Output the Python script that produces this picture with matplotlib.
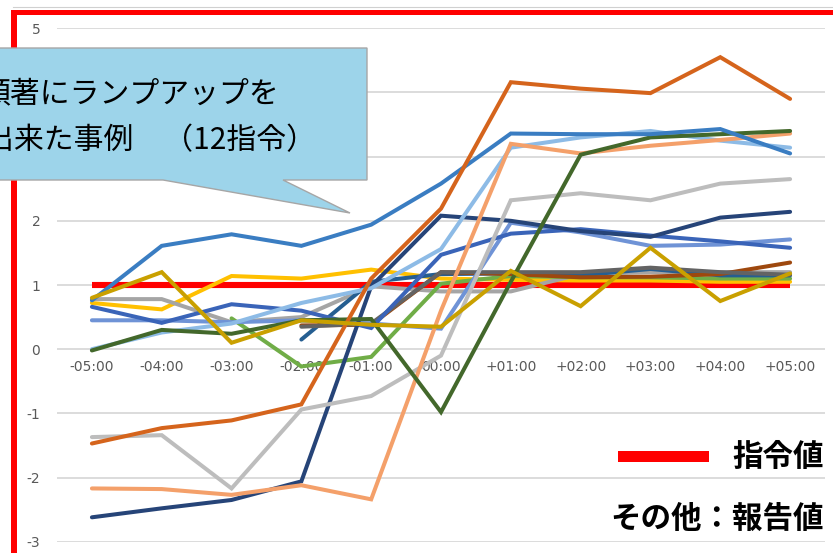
import numpy as np
import matplotlib
matplotlib.use("Agg")
import matplotlib.pyplot as plt
from matplotlib.patches import Rectangle, Polygon

nan = np.nan

# ---------------- data ----------------
categories = ['-05:00', '-04:00', '-03:00', '-02:00', '-01:00', '00:00',
              '+01:00', '+02:00', '+03:00', '+04:00', '+05:00']

command_value = [1, 1, 1, 1, 1, 1, 1, 1, 1, 1, 1]

s_gold       = [0.72, 0.62, 1.14, 1.10, 1.24, 1.10, 1.08, 1.07, 1.07, 1.05, 1.05]
s_lightgray  = [0.78, 0.78, 0.42, 0.50, 0.98, 0.90, 0.90, 1.17, 1.20, 1.20, 1.20]
s_green      = [nan, nan, 0.48, -0.27, -0.12, 1.02, 1.14, 1.12, 1.12, 1.10, 1.10]
s_teal       = [nan, nan, nan, 0.15, 1.05, 1.17, 1.18, 1.15, 1.25, 1.15, 1.15]
s_brown      = [nan, nan, nan, 0.37, 0.38, 1.20, 1.17, 1.12, 1.13, 1.17, 1.35]
s_darkgray   = [nan, nan, nan, 0.35, 0.40, 1.20, 1.20, 1.20, 1.27, 1.20, 1.16]
s_flatblue   = [0.45, 0.45, 0.42, 0.45, 0.40, 0.32, 1.97, 1.82, 1.61, 1.63, 1.71]
s_midblue    = [0.66, 0.41, 0.70, 0.60, 0.33, 1.47, 1.80, 1.87, 1.77, 1.68, 1.58]
s_navy       = [-2.62, -2.48, -2.35, -2.06, 0.98, 2.08, 2.00, 1.84, 1.75, 2.05, 2.14]
s_graylow    = [-1.37, -1.34, -2.17, -0.94, -0.73, -0.10, 2.32, 2.43, 2.32, 2.58, 2.65]
s_lightblue  = [0.00, 0.26, 0.40, 0.72, 0.95, 1.56, 3.14, 3.30, 3.40, 3.25, 3.14]
s_lightorange= [-2.17, -2.18, -2.27, -2.12, -2.34, 0.60, 3.20, 3.05, 3.17, 3.26, 3.36]
s_darkgreen  = [-0.02, 0.30, 0.24, 0.45, 0.47, -0.98, 1.05, 3.03, 3.30, 3.35, 3.40]
s_blue       = [0.76, 1.61, 1.79, 1.61, 1.94, 2.58, 3.36, 3.35, 3.35, 3.43, 3.05]
s_orange     = [-1.47, -1.23, -1.11, -0.86, 1.10, 2.19, 4.16, 4.06, 3.99, 4.55, 3.90]
s_darkgold   = [0.80, 1.20, 0.10, 0.45, 0.38, 0.35, 1.22, 0.67, 1.58, 0.75, 1.18]

series = [s_gold, s_lightgray, s_green, s_teal, s_brown, s_darkgray, s_flatblue,
          s_midblue, s_navy, s_graylow, s_lightblue, s_lightorange, s_darkgreen,
          s_blue, s_orange, s_darkgold]
colors = ['#FFC000', '#A5A5A5', '#70AD47', '#255E91', '#9E480E', '#636363', '#6F93D6',
          '#3A64B8', '#264478', '#BDBDBD', '#8DBBE6', '#F4A06A', '#43682B',
          '#3A7DC2', '#D5641C', '#C9A000']

y_ticks = [-3, -2, -1, 0, 1, 2, 3, 4, 5]

callout_lines = ['顕著にランプアップを', '出来た事例　（12指令）']
legend_command = '指令値'
legend_other = 'その他：報告値'

# ---------------- figure ----------------
W, H = 833, 553
fig = plt.figure(figsize=(W / 100, H / 100), dpi=100)
fig.patch.set_facecolor('white')


def P(x, y):
    return (x / W, 1 - y / H)


ax = fig.add_axes([57 / W, 1 - 541.7 / H, 768 / W, 513.4 / H])
ax.set_facecolor('none')
x = np.arange(len(categories))

ax.plot(x, command_value, color='#FF0000', lw=4.4, solid_capstyle='butt', zorder=2)
for s, c in zip(series, colors):
    ax.plot(x, s, color=c, lw=2.9, solid_capstyle='round', solid_joinstyle='miter', zorder=3)

ax.set_xlim(-0.5, len(categories) - 0.5)
ax.set_ylim(-3, 5)
ax.set_yticks(y_ticks)
ax.set_yticklabels([str(t) for t in y_ticks])
ax.set_xticks(x)
ax.set_xticklabels(categories)
for sp in ['top', 'right', 'left']:
    ax.spines[sp].set_visible(False)
ax.spines['bottom'].set_position(('data', 0))
ax.spines['bottom'].set_visible(False)
ax.grid(axis='y', color='#D9D9D9', lw=1.3, zorder=0)
ax.set_axisbelow(True)
ax.tick_params(axis='x', length=0, pad=8, labelsize=10, labelcolor='#595959')
ax.tick_params(axis='y', length=0, pad=12, labelsize=10, labelcolor='#595959')

# ---------------- frame ----------------
fig.add_artist(plt.Line2D([P(13, 7)[0], 1], [P(13, 7)[1]] * 2, color='#D0D0D0', lw=0.8))
x0, y0 = P(11, 15)
fig.add_artist(Rectangle((x0, y0), 1 - x0, 5 / H, transform=fig.transFigure,
                         facecolor='#FF0000', edgecolor='none', zorder=5))
x0, y0 = P(11, 553)
fig.add_artist(Rectangle((x0, y0), 6 / W, 543 / H, transform=fig.transFigure,
                         facecolor='#FF0000', edgecolor='none', zorder=5))

# ---------------- callout ----------------
pts = [(-10, 48), (367, 48), (367, 180), (283, 180), (350, 213), (163, 180), (-10, 180)]
fig.add_artist(Polygon([P(*p) for p in pts], closed=True, transform=fig.transFigure,
                       facecolor='#9DD4EA', edgecolor='#A6A6A6', lw=1.0, zorder=6))
fig.text(*P(-20, 94), callout_lines[0], fontsize=21.5, family=['Noto Sans CJK JP', 'DejaVu Sans'],
         ha='left', va='center', color='black', zorder=7)
fig.text(*P(-16, 141), callout_lines[1], fontsize=21.5, family=['Noto Sans CJK JP', 'DejaVu Sans'],
         ha='left', va='center', color='black', zorder=7)

# ---------------- legend-like labels ----------------
x0, y0 = P(618, 462)
fig.add_artist(Rectangle((x0, y0), 91 / W, 11 / H, transform=fig.transFigure,
                         facecolor='#FF0000', edgecolor='none', zorder=6))
fig.text(*P(824, 457), legend_command, fontsize=22, fontweight='bold',
         family=['Noto Sans CJK JP', 'DejaVu Sans'], ha='right', va='center', color='black')
fig.text(*P(824, 519), legend_other, fontsize=22, fontweight='bold',
         family=['Noto Sans CJK JP', 'DejaVu Sans'], ha='right', va='center', color='black')

fig.savefig('out.png', dpi=100)
